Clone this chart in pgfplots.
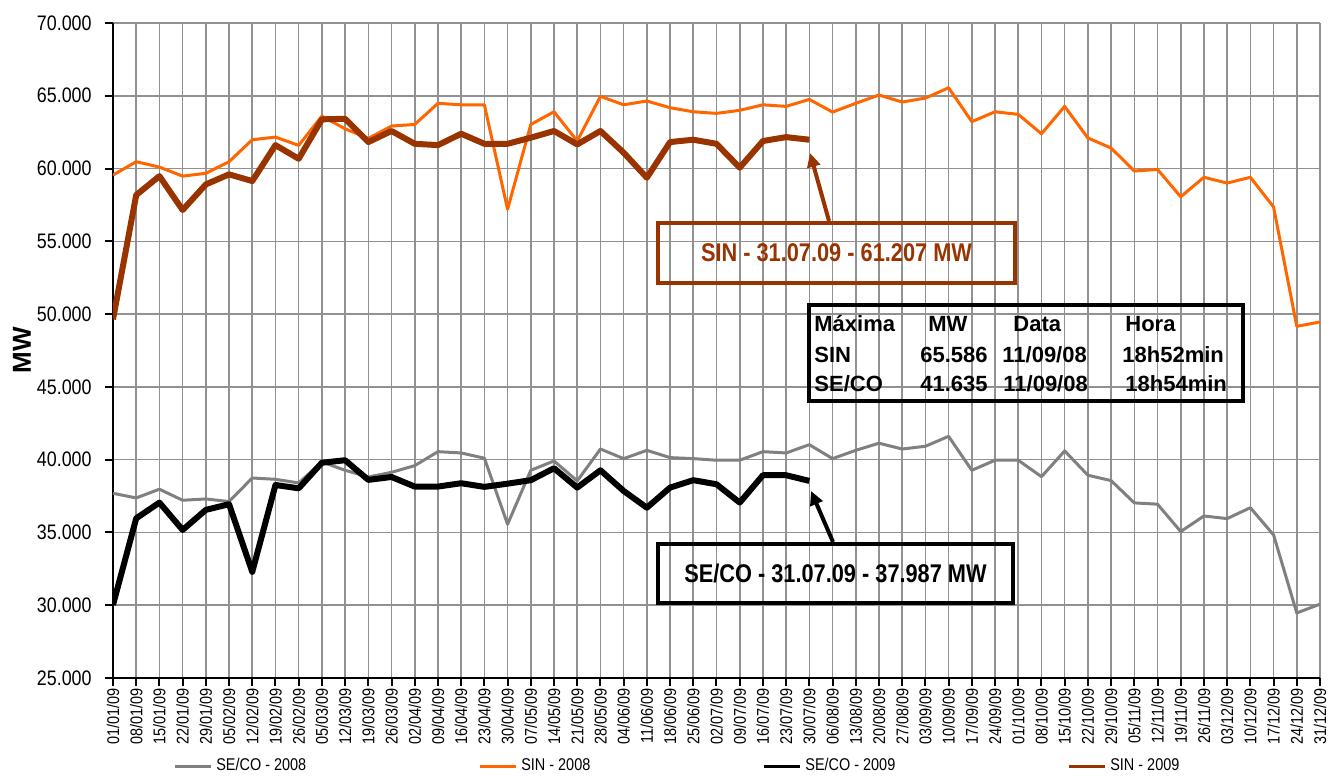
\documentclass[border=0pt]{standalone}
\usepackage{fontspec}
\setmainfont{Liberation Sans}
\newfontfamily\narrow{Liberation Sans}[FakeStretch=0.85]
\usepackage{pgfplots}
\pgfplotsset{compat=1.18}
\usetikzlibrary{arrows.meta}
\definecolor{sinorange}{RGB}{255,102,0}
\definecolor{sinbrown}{RGB}{153,51,0}
\definecolor{secogray}{RGB}{128,128,128}
\definecolor{gridgray}{RGB}{145,145,145}
\tikzset{px/.style={x=0.5pt,y=-0.5pt,shift={(-56.5pt,339pt)}}}

\pgfplotstableread{
i v
0 37.69
1 37.37
2 37.97
3 37.21
4 37.30
5 37.12
6 38.74
7 38.65
8 38.40
9 39.84
10 39.27
11 38.81
12 39.13
13 39.59
14 40.55
15 40.46
16 40.10
17 35.56
18 39.27
19 39.91
20 38.54
21 40.73
22 40.07
23 40.64
24 40.14
25 40.07
26 39.96
27 39.96
28 40.55
29 40.46
30 41.03
31 40.07
32 40.64
33 41.13
34 40.73
35 40.92
36 41.60
37 39.27
38 39.96
39 39.96
40 38.83
41 40.60
42 38.93
43 38.56
44 37.03
45 36.94
46 35.06
47 36.13
48 35.95
49 36.70
50 34.83
51 29.47
52 30.07
}\secoA

\pgfplotstableread{
i v
0 59.55
1 60.47
2 60.10
3 59.48
4 59.67
5 60.47
6 61.98
7 62.16
8 61.59
9 63.60
10 62.73
11 62.07
12 62.92
13 63.03
14 64.48
15 64.38
16 64.38
17 57.20
18 63.03
19 63.90
20 61.89
21 64.96
22 64.38
23 64.64
24 64.18
25 63.90
26 63.79
27 64.00
28 64.38
29 64.27
30 64.75
31 63.88
32 64.48
33 65.05
34 64.57
35 64.84
36 65.55
37 63.22
38 63.90
39 63.72
40 62.39
41 64.27
42 62.10
43 61.41
44 59.83
45 59.94
46 58.06
47 59.40
48 59.00
49 59.40
50 57.36
51 49.16
52 49.46
}\sinA

\pgfplotstableread{
i v
0 30.02
1 35.97
2 37.05
3 35.17
4 36.55
5 36.94
6 32.29
7 38.26
8 38.03
9 39.79
10 39.96
11 38.61
12 38.81
13 38.15
14 38.15
15 38.38
16 38.13
17 38.35
18 38.59
19 39.41
20 38.08
21 39.27
22 37.85
23 36.70
24 38.08
25 38.59
26 38.31
27 37.05
28 38.93
29 38.93
30 38.54
}\secoB

\pgfplotstableread{
i v
0 49.64
1 58.18
2 59.48
3 57.15
4 58.91
5 59.60
6 59.14
7 61.61
8 60.67
9 63.38
10 63.42
11 61.82
12 62.58
13 61.70
14 61.61
15 62.39
16 61.70
17 61.70
18 62.12
19 62.58
20 61.66
21 62.58
22 61.09
23 59.37
24 61.82
25 61.98
26 61.70
27 60.06
28 61.89
29 62.16
30 61.98
}\sinB

\begin{document}
\begin{tikzpicture}
\begin{scope}[px]
\path[use as bounding box] (0,0) rectangle (1330,773);
\end{scope}
\begin{axis}[
  at={(0pt,0pt)}, anchor=south west,
  scale only axis, width=603.5pt, height=327.5pt,
  xmin=0, xmax=52, ymin=25, ymax=70,
  axis x line*=bottom, axis y line*=left,
  axis line style={-, black, line width=1pt},
  xtick={0,...,52},
  xticklabels={01/01/09,08/01/09,15/01/09,22/01/09,29/01/09,05/02/09,12/02/09,19/02/09,26/02/09,05/03/09,12/03/09,19/03/09,26/03/09,02/04/09,09/04/09,16/04/09,23/04/09,30/04/09,07/05/09,14/05/09,21/05/09,28/05/09,04/06/09,11/06/09,18/06/09,25/06/09,02/07/09,09/07/09,16/07/09,23/07/09,30/07/09,06/08/09,13/08/09,20/08/09,27/08/09,03/09/09,10/09/09,17/09/09,24/09/09,01/10/09,08/10/09,15/10/09,22/10/09,29/10/09,05/11/09,12/11/09,19/11/09,26/11/09,03/12/09,10/12/09,17/12/09,24/12/09,31/12/09},
  x tick label style={rotate=90, anchor=east, font=\narrow\fontsize{8.5}{10}\selectfont, inner sep=1pt},
  ytick={25,30,...,70},
  y tick label style={font=\narrow\fontsize{10.5}{12}\selectfont, inner sep=1pt, xshift=-5.5pt},
  /pgf/number format/.cd, fixed, fixed zerofill, precision=3, assume math mode=true,
  /pgfplots/.cd,
  tick align=outside, major tick length=4pt,
  tick style={black, line width=1pt},
  grid=major,
  major grid style={gridgray, line width=0.8pt},
  ylabel={MW},
  ylabel style={at={(axis description cs:-0.0754,0.5)}, anchor=center, font=\bfseries\fontsize{13}{15}\selectfont},
  legend columns=4,
  legend style={draw=none, fill=none, at={(axis description cs:0.0447,-0.1344)}, anchor=west,
    font=\narrow\fontsize{8.5}{10}\selectfont,
    /tikz/every even column/.append style={column sep=84pt}},
  legend cell align=left,
  legend image code/.code={\draw[#1, line width=1.5pt] (0pt,0pt) -- (18pt,0pt);},
  every axis plot/.append style={line join=round},
]
\addplot[secogray, line width=1.5pt] table[x=i,y=v] {\secoA};
\addlegendentry{SE/CO - 2008}
\addplot[sinorange, line width=1.5pt] table[x=i,y=v] {\sinA};
\addlegendentry{SIN - 2008}
\addplot[black, line width=3pt] table[x=i,y=v] {\secoB};
\addlegendentry{SE/CO - 2009}
\addplot[sinbrown, line width=3pt] table[x=i,y=v] {\sinB};
\addlegendentry{SIN - 2009}
\end{axis}
\begin{scope}[px]
\draw[sinbrown, line width=2pt, -{Triangle[length=7pt,width=6.5pt]}] (829,221) -- (810,153);
\node[draw=sinbrown, line width=2pt, minimum width=178.5pt, minimum height=30pt, inner sep=0pt,
  font=\narrow\bfseries\fontsize{12.8}{14}\selectfont, text=sinbrown] at (836.5,253) {SIN - 31.07.09 - 61.207 MW};
\draw[black, line width=2pt, -{Triangle[length=7pt,width=6.5pt]}] (833,542) -- (811,491);
\node[draw=black, line width=2pt, minimum width=177.5pt, minimum height=29.5pt, inner sep=0pt,
  font=\narrow\bfseries\fontsize{12.8}{14}\selectfont] at (835.5,573.5) {SE/CO - 31.07.09 - 37.987 MW};
\node[draw=black, line width=2pt, minimum width=217pt, minimum height=48pt, inner sep=0pt] at (1026,353) {};
\begin{scope}[every node/.style={anchor=base west, inner sep=0pt, font=\bfseries\fontsize{11}{13}\selectfont}]
\node at (814,331.7) {Máxima};
\node at (928,331.7) {MW};
\node at (1013,331.7) {Data};
\node at (1125,331.7) {Hora};
\node at (814,363) {SIN};
\node at (920,363) {65.586};
\node at (1002,363) {11/09/08};
\node at (1122,363) {18h52min};
\node at (814,392) {SE/CO};
\node at (920,392) {41.635};
\node at (1003,392) {11/09/08};
\node at (1125,392) {18h54min};
\end{scope}
\end{scope}
\end{tikzpicture}
\end{document}
